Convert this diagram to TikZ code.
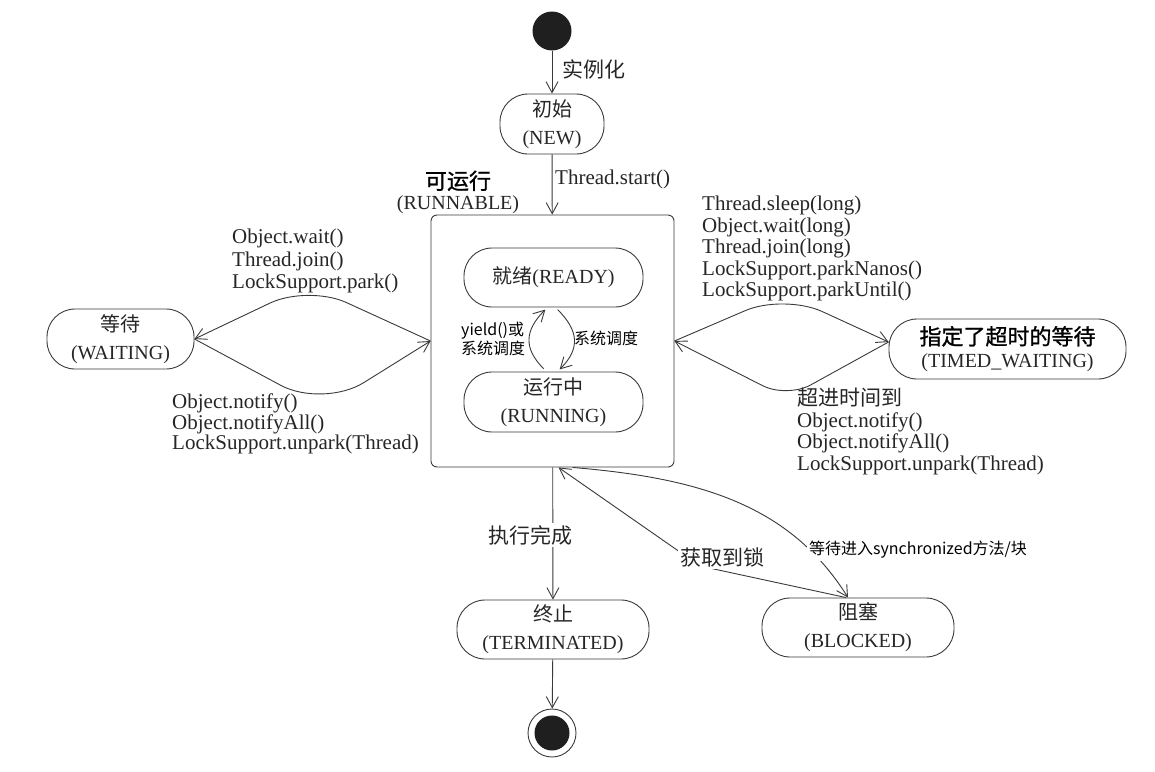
\documentclass[tikz,border=0pt]{standalone}
\usepackage{fontspec}
\setmainfont{Liberation Serif}
\newfontfamily\cjk{Noto Sans CJK SC}
\newfontfamily\cjkb[FakeBold=1]{Noto Sans CJK SC}
\usetikzlibrary{arrows.meta}
\definecolor{ink}{HTML}{262626}
\definecolor{edge}{HTML}{3A3A3A}
\begin{document}
\begin{tikzpicture}[x=1pt,y=-1pt,
  state/.style={draw=edge, line width=0.9pt, rounded corners=28pt, align=center, inner sep=0pt, text=ink, font=\fontsize{20}{28}\selectfont},
  arr/.style={draw=edge, line width=0.9pt, -{Straight Barb[length=11pt,width=12pt]}},
  lbl/.style={text=ink, font=\fontsize{21}{21.5}\selectfont, inner sep=0pt, align=left},
  sans/.style={text=black, font=\cjk\fontsize{16}{19}\selectfont, inner sep=0pt, align=left},
]
\useasboundingbox (0,0) rectangle (1155,771);
\fill[white] (0,0) rectangle (1155,771);

% states
\node[circle, fill=black!88, minimum size=39pt, inner sep=0pt] (init) at (552,31) {};
\node[state, minimum width=104pt, minimum height=60pt] (new) at (552,124) {{\cjk 初始}\\(NEW)};
\node[draw=edge, line width=0.9pt, rounded corners=6pt, minimum width=243pt, minimum height=252pt, inner sep=0pt] (run) at (552.5,341) {};
\node[text=ink, align=center, inner sep=0pt, font=\fontsize{20}{20}\selectfont] (runlbl) at (458,192) {{\cjkb\fontsize{22}{22}\selectfont\color{black} 可运行}\\(RUNNABLE)};
\node[state, minimum width=179pt, minimum height=59pt] (ready) at (553.5,277.5) {{\cjk 就绪}(READY)};
\node[state, minimum width=179pt, minimum height=60pt] (running) at (553.5,402) {{\cjk 运行中}\\(RUNNING)};
\node[state, minimum width=147pt, minimum height=60pt] (waiting) at (120.5,339) {{\cjk 等待}\\(WAITING)};
\node[state, minimum width=237pt, minimum height=60pt, font=\fontsize{20}{23}\selectfont] (tw) at (1007.5,349) {{\cjkb\fontsize{22}{23}\selectfont\color{black} 指定了超时的等待}\\(TIMED\_WAITING)};
\node[state, minimum width=192pt, minimum height=59pt] (term) at (553,629.5) {{\cjk 终止}\\(TERMINATED)};
\node[state, minimum width=192pt, minimum height=59pt] (blocked) at (858,627.5) {{\cjk 阻塞}\\(BLOCKED)};
\node[circle, draw=edge, line width=0.9pt, minimum size=48pt, inner sep=0pt] (final) at (552,733) {};
\node[circle, fill=black!88, minimum size=35pt, inner sep=0pt] (finalin) at (final.center) {};

% transitions
\draw[arr] (init) -- (new);
\draw[arr] (new) -- (run);
\draw[arr] (run) -- (term);
\draw[arr] (term) -- (final);

\draw[arr, rounded corners=42pt] (run.west) -- (308,285) -- (waiting.east);
\draw[arr, rounded corners=48pt] (waiting.east) -- (323,408) -- (run.west);

\draw[arr, rounded corners=42pt] (run.east) -- (784,294) -- ([yshift=7pt]tw.west);
\draw[arr, rounded corners=27pt] ([yshift=7pt]tw.west) -- (787,398) -- (run.east);

\draw[arr, shorten <=4pt, shorten >=3pt] ([xshift=-7pt]running.north) to[out=135, in=225, looseness=1.3] ([xshift=-6pt]ready.south);
\draw[arr, shorten <=3pt, shorten >=3pt] ([xshift=2pt]ready.south) to[out=-45, in=45, looseness=1.3] ([xshift=4pt]running.north);

\draw[arr] ([xshift=-12pt]blocked.north) -- (700,566) -- ([xshift=6pt]run.south);
\draw[arr] ([xshift=20pt]run.south) .. controls (700,478) and (790,505) .. ([xshift=-10pt]blocked.north);

% labels
\node[lbl] (linst) at (594,69) {\cjk 实例化};
\node[lbl, anchor=west] (lstart) at (555,179) {Thread.start()};
\node[lbl, anchor=north west, font=\fontsize{21}{22.5}\selectfont] (lwait) at (232,229) {Object.wait()\\Thread.join()\\LockSupport.park()};
\node[lbl, anchor=north west, font=\fontsize{21}{20.5}\selectfont] (lnotify) at (172,394) {Object.notify()\\Object.notifyAll()\\LockSupport.unpark(Thread)};
\node[lbl, anchor=north west] (ltimed) at (702,196) {Thread.sleep(long)\\Object.wait(long)\\Thread.join(long)\\LockSupport.parkNanos()\\LockSupport.parkUntil()};
\node[lbl, anchor=north west] (lback) at (797,388) {{\cjk 超进时间到}\\Object.notify()\\Object.notifyAll()\\LockSupport.unpark(Thread)};
\node[sans, anchor=north west] (lyield) at (461,322) {yield()或\\系统调度};
\node[sans, anchor=west] (lsched) at (574,338) {系统调度};
\node[lbl, fill=white, inner sep=2pt] (lexec) at (530,535) {\cjk 执行完成};
\node[lbl, fill=white, inner sep=2pt] (lget) at (722,557) {\cjk 获取到锁};
\node[sans, fill=white, inner sep=2pt] (lsync) at (918,550) {等待进入synchronized方法/块};
\end{tikzpicture}
\end{document}
